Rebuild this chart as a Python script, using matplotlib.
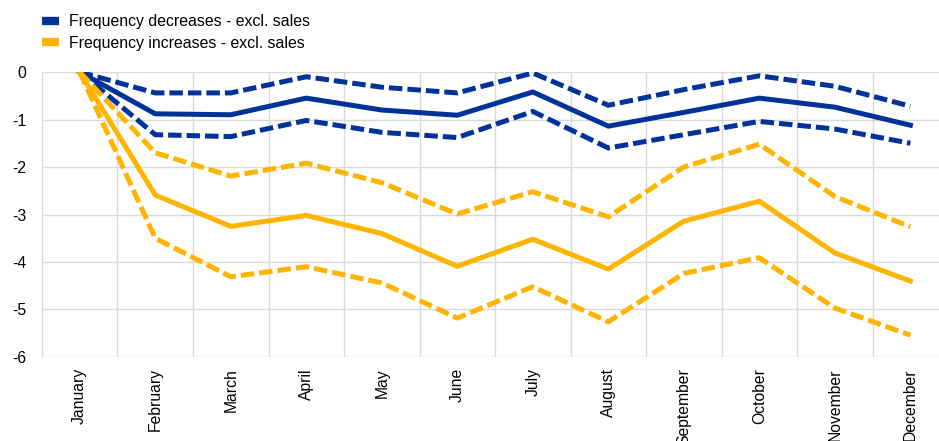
import matplotlib.pyplot as plt
from matplotlib.lines import Line2D

months = ["January", "February", "March", "April", "May", "June",
          "July", "August", "September", "October", "November", "December"]

# frequency decreases - excl. sales (central estimate and bands)
dec_mid = [0, -0.88, -0.90, -0.55, -0.80, -0.91, -0.42, -1.14, -0.85, -0.55, -0.74, -1.12]
dec_upper = [0, -0.44, -0.44, -0.10, -0.32, -0.44, -0.02, -0.70, -0.37, -0.08, -0.30, -0.72]
dec_lower = [0, -1.32, -1.36, -1.02, -1.27, -1.38, -0.83, -1.60, -1.32, -1.04, -1.20, -1.50]

# frequency increases - excl. sales
inc_mid = [0, -2.59, -3.25, -3.02, -3.40, -4.09, -3.52, -4.15, -3.14, -2.72, -3.81, -4.40]
inc_upper = [0, -1.70, -2.19, -1.92, -2.33, -2.99, -2.52, -3.05, -2.00, -1.52, -2.62, -3.26]
inc_lower = [0, -3.50, -4.31, -4.10, -4.44, -5.18, -4.52, -5.26, -4.24, -3.91, -4.97, -5.54]

blue = "#003299"
yellow = "#FFB400"
grid_col = "#d9d9d9"

plt.rcParams["font.family"] = ["Liberation Sans", "DejaVu Sans"]

fig = plt.figure(figsize=(9.39, 4.41), dpi=100)
ax = fig.add_axes([0.0447, 0.1905, 0.965, 0.6462])

x = list(range(len(months)))
lw = 3.6
dash = (2.7, 1.0)

ax.plot(x, dec_mid, color=blue, lw=lw)
ax.plot(x, dec_upper, color=blue, lw=lw, dashes=dash)
ax.plot(x, dec_lower, color=blue, lw=lw, dashes=dash)

ax.plot(x, inc_mid, color=yellow, lw=lw)
ax.plot(x, inc_upper, color=yellow, lw=lw, dashes=dash)
ax.plot(x, inc_lower, color=yellow, lw=lw, dashes=dash)

ax.set_xlim(-0.5, len(months) - 0.5)
ax.set_ylim(-6, 0)
ax.set_yticks(range(-6, 1))
ax.set_yticklabels([str(v) for v in range(-6, 1)])
ax.set_xticks(x)
ax.set_xticklabels(months, rotation=90, va="top")

# gridlines sit between the months
ax.set_xticks([i - 0.5 for i in range(len(months) + 1)], minor=True)
ax.grid(which="minor", axis="x", color=grid_col, lw=1)
ax.grid(which="major", axis="y", color=grid_col, lw=1)
ax.set_axisbelow(True)
for s in ax.spines.values():
    s.set_visible(False)

ax.tick_params(axis="both", which="both", length=0, labelsize=11.3, colors="black")
ax.tick_params(axis="x", pad=8)
ax.tick_params(axis="y", pad=11)

handles = [Line2D([], [], color=blue, lw=6, solid_capstyle="butt"),
           Line2D([], [], color=yellow, lw=6, solid_capstyle="butt")]
fig.legend(handles, ["Frequency decreases - excl. sales", "Frequency increases - excl. sales"],
           loc="upper left", bbox_to_anchor=(0.0295, 1.0), frameon=False,
           fontsize=11.4, handlelength=1.05, handletextpad=0.65, labelspacing=0.42,
           borderaxespad=0.5)

fig.savefig("out.png", dpi=100)
